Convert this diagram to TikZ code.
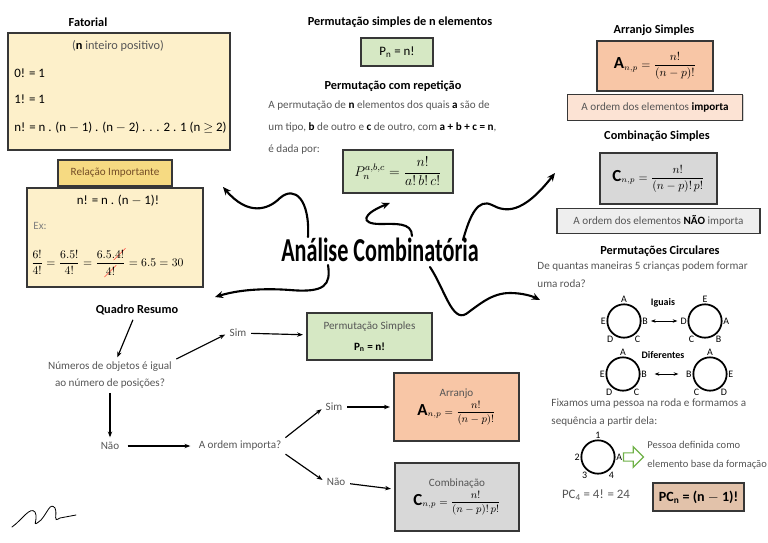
\documentclass[tikz,border=0pt]{standalone}
\usepackage{fontspec}
\setmainfont{Carlito}
\usepackage{amsmath}
\usepackage{cancel}
\usepackage{tikz}
\usetikzlibrary{arrows.meta, positioning, shapes.arrows, shadows}
\definecolor{boxline}{RGB}{55,55,55}
\definecolor{txtgray}{RGB}{85,85,85}
\definecolor{creamfill}{RGB}{253,240,202}
\definecolor{goldfill}{RGB}{246,218,130}
\definecolor{greenfill}{RGB}{214,232,196}
\definecolor{peachfill}{RGB}{248,198,166}
\definecolor{lpeachfill}{RGB}{252,227,212}
\definecolor{grayfill}{RGB}{216,216,216}
\definecolor{lgrayfill}{RGB}{238,238,238}
\definecolor{tanfill}{RGB}{226,194,170}
\definecolor{arrgreen}{RGB}{112,178,72}
\renewcommand{\CancelColor}{\color{red}}
\newcommand{\destaque}[1]{\textcolor{black}{\textbf{#1}}}
\tikzset{
  box/.style={rectangle, draw=boxline, line width=0.9pt, inner sep=2pt,
    drop shadow={shadow xshift=1pt, shadow yshift=-1pt, opacity=0.35}},
  creambox/.style={box, fill=creamfill},
  goldbox/.style={box, fill=goldfill},
  greenbox/.style={box, fill=greenfill},
  peachbox/.style={box, fill=peachfill},
  lpeachbox/.style={box, fill=lpeachfill},
  graybox/.style={box, fill=grayfill},
  lgraybox/.style={box, fill=lgrayfill},
  tanbox/.style={box, fill=tanfill},
  ttl/.style={font=\fontsize{10.5}{12}\selectfont\bfseries, inner sep=1pt},
  txt/.style={font=\fontsize{9.5}{14}\selectfont, text=txtgray, inner sep=1pt},
  txtdark/.style={font=\fontsize{11}{13}\selectfont, inner sep=1pt},
  roda/.style={circle, draw, line width=1.5pt, minimum size=1cm, inner sep=0pt,
    label distance=0.5pt},
  rodalbl/.style={font=\fontsize{8.5}{9}\selectfont, inner sep=0.5pt},
  arrow/.style={-{Stealth[length=5pt]}, line width=1pt, shorten >=3pt, shorten <=3pt},
  curvy/.style={-{Stealth[length=7pt, width=6pt]}, line width=1.8pt, line cap=round}
}

\begin{document}
\begin{tikzpicture}[x=0.03cm, y=-0.03cm]
  \useasboundingbox (0,0) rectangle (768,543);

  % Fatorial
  \node[creambox, minimum width=6.66cm, minimum height=3.51cm] (fatbox) at (119,91.5) {};
  \node[ttl] (fattl) at (88,22) {Fatorial};
  \node[txt, font=\fontsize{10.5}{12}\selectfont] (fatcond) at (118,46) {(\destaque{n} inteiro positivo)};
  \node[txtdark, anchor=west] (fat0) at (13,73) {0! = 1};
  \node[txtdark, anchor=west] (fat1) at (13,99) {1! = 1};
  \node[txtdark, anchor=west] (fatn) at (13,128) {n! = n . (n $-$ 1) . (n $-$ 2) . . . 2 . 1 (n $\geq$ 2)};

  % Relacao importante
  \node[goldbox, minimum width=3.42cm, minimum height=0.78cm, txt, text=brown!60!black] (reltl) at (115,173) {Relação Importante};
  \node[creambox, minimum width=5.28cm, minimum height=2.97cm] (relbox) at (115,237.5) {};
  \node[txtdark] (relfor) at (118,201) {n! = n . (n $-$ 1)!};
  \node[txt, anchor=west, text=gray] (relex) at (32,226) {Ex:};
  \node[anchor=west, font=\fontsize{10}{12}\selectfont, inner sep=0pt] (releq) at (31,262)
    {$\dfrac{6!}{4!}=\dfrac{6.5!}{4!}=\dfrac{6.5.\cancel{4!}}{\cancel{4!}}=6.5=30$};

  % Permutacao simples e com repeticao
  \node[ttl] (pstl) at (400,22) {Permutação simples de n elementos};
  \node[greenbox, minimum width=2.16cm, minimum height=0.84cm, txtdark] (psbox) at (397,52) {P\textsubscript{n} = n!};
  \node[ttl] (prtl) at (393,86) {Permutação com repetição};
  \node[txt, anchor=north west, align=left, font=\fontsize{9.5}{19}\selectfont] (prtxt) at (267,99)
    {A permutação de \destaque{n} elementos dos quais \destaque{a} são de\\
     um tipo, \destaque{b} de outro e \destaque{c} de outro, com \destaque{a + b + c = n},\\
     é dada por:};
  \node[greenbox, minimum width=3.3cm, minimum height=1.29cm, font=\fontsize{12}{14}\selectfont] (prbox) at (398,171.5)
    {$\displaystyle P_n^{a,b,c}=\frac{n!}{a!\,b!\,c!}$};

  % Arranjo e combinacao simples
  \node[ttl] (artl) at (654,30) {Arranjo Simples};
  \node[peachbox, minimum width=3.48cm, minimum height=1.5cm] (arbox) at (655,66)
    {{\Large\textbf{A}}$_{n,p}=\dfrac{n!}{(n-p)!}$};
  \node[lpeachbox, minimum width=5.25cm, minimum height=0.78cm, txt, below=0.06cm of arbox] (arord)
    {A ordem dos elementos \destaque{importa}};
  \node[ttl] (cotl) at (657,136) {Combinação Simples};
  \node[graybox, minimum width=3.51cm, minimum height=1.53cm] (cobox) at (658.5,178.5)
    {{\Large\textbf{C}}$_{n,p}=\dfrac{n!}{(n-p)!\,p!}$};
  \node[lgraybox, minimum width=6.09cm, minimum height=0.75cm, txt, below=0.09cm of cobox] (coord)
    {A ordem dos elementos \destaque{NÃO} importa};

  % Titulo central
  \node[inner sep=1pt] (titulo) at (380,250)
    {\scalebox{0.86}[1.3]{\fontsize{22}{26}\selectfont\bfseries Análise Combinatória}};
  \coordinate (s1) at (308,237);
  \coordinate (s2) at (412,236);
  \coordinate (s3) at (463,240);
  \coordinate (s4) at (328,265);
  \coordinate (s5) at (430,267);
  \coordinate (e1) at (223,187);
  \coordinate (e2) at (390,203);
  \coordinate (e3) at (555,173);
  \coordinate (e4) at (215,297);
  \coordinate (e5) at (540,300);
  \draw[curvy] (s1) .. controls (310,200) and (295,185) .. (280,198) .. controls (268,210) and (248,216) .. (e1);
  \draw[curvy] (s2) .. controls (412,222) and (395,224) .. (380,224) .. controls (360,224) and (362,214) .. (e2);
  \draw[curvy] (s3) .. controls (470,215) and (478,198) .. (492,205) .. controls (505,212) and (522,215) .. (e3);
  \draw[curvy] (s4) .. controls (331,285) and (325,293) .. (290,290) .. controls (262,288) and (238,290) .. (e4);
  \draw[curvy] (s5) .. controls (445,290) and (452,322) .. (466,314) .. controls (480,304) and (492,293) .. (510,293) .. controls (522,293) and (532,296) .. (e5);

  % Permutacoes circulares
  \node[ttl] (pctl) at (660,251) {Permutações Circulares};
  \node[txt, anchor=north west, align=left, font=\fontsize{9.5}{16}\selectfont] (pcq) at (536,260)
    {De quantas maneiras 5 crianças podem formar\\uma roda?};
  \begin{scope}[every label/.style=rodalbl]
    \node[roda, label={90:A}, label={[name=r1B]0:B}, label={-55:C}, label={-125:D}, label={180:E}] (roda1) at (624,321) {};
    \node[roda, label={90:E}, label={0:A}, label={-55:B}, label={-125:C}, label={[name=r2D]180:D}] (roda2) at (705,321) {};
    \node[roda, label={90:A}, label={[name=r3B]0:B}, label={-55:C}, label={-125:D}, label={180:E}] (roda3) at (623,374) {};
    \node[roda, label={90:A}, label={0:E}, label={-55:D}, label={-125:C}, label={[name=r4B]180:B}] (roda4) at (710,374) {};
    \node[roda, label={90:1}, label={[name=r5A]0:A}, label={-55:4}, label={-125:3}, label={180:2}] (roda5) at (598,457) {};
  \end{scope}
  \node[ttl, font=\fontsize{8.5}{10}\selectfont\bfseries] (iguais) at (663,303) {Iguais};
  \node[ttl, font=\fontsize{8.5}{10}\selectfont\bfseries] (difer) at (663,355) {Diferentes};
  \draw[{Stealth[length=4pt]}-{Stealth[length=4pt]}, line width=0.6pt, shorten >=2pt, shorten <=2pt] (r1B) -- (r2D);
  \draw[{Stealth[length=4pt]}-{Stealth[length=4pt]}, line width=0.6pt, shorten >=6pt, shorten <=6pt] (r3B) -- (r4B);
  \node[txt, anchor=north west, align=left, font=\fontsize{9.5}{16}\selectfont] (fix) at (550,397)
    {Fixamos uma pessoa na roda e formamos a\\sequência a partir dela:};
  \node[single arrow, draw=arrgreen, fill=white, line width=1pt, minimum height=0.6cm, minimum width=0.62cm,
    single arrow head extend=0.08cm, inner sep=1pt, right=0pt of r5A] (setaverde) {};
  \node[txt, anchor=west, align=left, font=\fontsize{9}{16}\selectfont] (pessoa) at (646,455)
    {Pessoa definida como\\elemento base da formação};
  \node[txt, font=\fontsize{11}{13}\selectfont] (pc4) at (596,495) {PC\textsubscript{4} = 4! = 24};
  \node[tanbox, minimum width=2.73cm, minimum height=0.84cm, font=\fontsize{12}{14}\selectfont\bfseries] (pcnbox) at (698.5,497)
    {PC\textsubscript{n} = (n $-$ 1)!};

  % Quadro resumo
  \node[ttl] (qrtl) at (137,310) {Quadro Resumo};
  \node[txt, align=center] (quest) at (110,375) {Números de objetos é igual\\ao número de posições?};
  \node[txt] (sim1) at (238,333) {Sim};
  \node[greenbox, minimum width=3.75cm, minimum height=1.41cm, align=center, txt, text=txtgray, font=\fontsize{9.5}{18}\selectfont] (psres) at (369.5,336.5)
    {Permutação Simples\\\textcolor{black}{\textbf{P\textsubscript{n} = n!}}};
  \node[txt] (nao1) at (110,446) {Não};
  \node[txt] (ordq) at (240,446) {A ordem importa?};
  \node[txt] (sim2) at (334,407) {Sim};
  \node[txt] (nao2) at (336,482) {Não};
  \node[peachbox, minimum width=3.75cm, minimum height=2.04cm, align=center, txt, text=txtgray] (arres) at (456.5,407)
    {Arranjo\\[2pt]\textcolor{black}{{\Large\textbf{A}}$_{n,p}=\dfrac{n!}{(n-p)!}$}};
  \node[graybox, minimum width=3.72cm, minimum height=2.04cm, align=center, txt, text=txtgray] (cores) at (457,497)
    {Combinação\\[2pt]\textcolor{black}{{\Large\textbf{C}}$_{n,p}=\dfrac{n!}{(n-p)!\,p!}$}};
  \draw[arrow] (qrtl) -- (quest);
  \draw[arrow] (quest.north east) -- (sim1.west);
  \draw[arrow] (sim1) -- (psres);
  \draw[arrow] (quest) -- (nao1);
  \draw[arrow, shorten >=6pt, shorten <=6pt] (nao1) -- (ordq);
  \draw[arrow] (ordq.north east) -- (sim2.west);
  \draw[arrow] (ordq.south east) -- (nao2.west);
  \draw[arrow] (sim2) -- (arres);
  \draw[arrow] (nao2) -- (cores);

  % assinatura
  \draw[line width=0.7pt, line cap=round] (12,527) .. controls (22,520) and (30,506) .. (35,512)
    .. controls (39,520) and (30,529) .. (41,520) .. controls (48,512) and (50,502) .. (55,508)
    .. controls (58,515) and (52,523) .. (60,518) -- (76,515);
\end{tikzpicture}
\end{document}
